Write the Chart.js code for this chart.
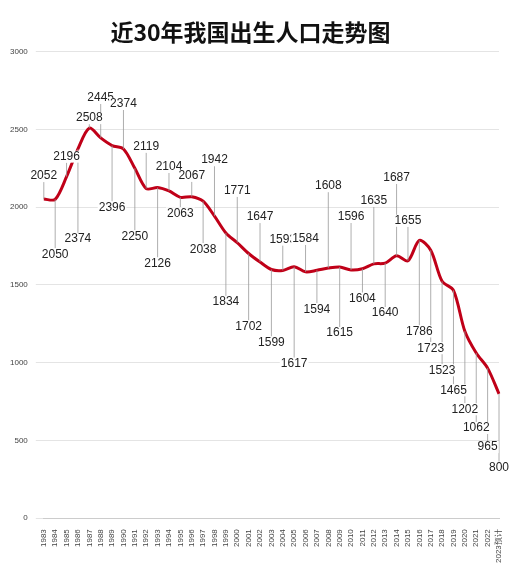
<!DOCTYPE html>
<html><head><meta charset="utf-8">
<script src="https://cdn.jsdelivr.net/npm/chart.js@4/dist/chart.umd.min.js"></script>
<style>body{margin:0;background:#fff}#w{width:513px;height:568px;position:relative}</style>
</head><body><div id="w"><canvas id="c"></canvas></div>
<script>
const years = ['1983','1984','1985','1986','1987','1988','1989','1990','1991','1992','1993','1994','1995','1996','1997','1998','1999','2000','2001','2002','2003','2004','2005','2006','2007','2008','2009','2010','2011','2012','2013','2014','2015','2016','2017','2018','2019','2020','2021','2022','2023预计'];
const births = [2052,2050,2196,2374,2508,2445,2396,2374,2250,2119,2126,2104,2063,2067,2038,1942,1834,1771,1702,1647,1599,1593,1617,1584,1594,1608,1615,1596,1604,1635,1640,1687,1655,1786,1723,1523,1465,1202,1062,965,800];
const yTicks = [0,500,1000,1500,2000,2500,3000];
const labelDy = [-23,55,-20,90,-10,-40,62,-45,68,-42,76,-24,16,-21,48,-56,69,-52,73,-45,73,-31,97,-33,39,-82,66,-53,30,-63,50,-78,-40,91,98,89,100,78,75,79,74];
const labelPlugin = {id:'lbl', afterDatasetsDraw(ch){
  const ctx=ch.ctx, meta=ch.getDatasetMeta(0);
  ctx.save(); ctx.font='12px "Liberation Sans", Arial'; ctx.textAlign='center'; ctx.textBaseline='middle';
  meta.data.forEach((p,i)=>{
    const ty=p.y+labelDy[i];
    ctx.strokeStyle='#999'; ctx.lineWidth=0.8; ctx.beginPath();
    ctx.moveTo(p.x,p.y); ctx.lineTo(p.x, ty + (labelDy[i]<0?6:-6)); ctx.stroke();
  });
  meta.data.forEach((p,i)=>{
    const ty=p.y+labelDy[i];
    ctx.fillStyle='#fff'; const w=ctx.measureText(String(births[i])).width;
    ctx.fillRect(p.x-w/2-1,ty-6,w+2,12);
    ctx.fillStyle='#222'; ctx.fillText(String(births[i]),p.x,ty);
  });
  ctx.restore();
}};
new Chart(document.getElementById('c'),{type:'line',
 data:{labels:years,datasets:[{data:births,borderColor:'#c00018',borderWidth:3,pointRadius:0,tension:0.3,fill:false}]},
 options:{responsive:true,maintainAspectRatio:false,animation:false,
  layout:{padding:{left:2,right:14,top:0,bottom:2}},
  plugins:{legend:{display:false},tooltip:{enabled:false},
   title:{display:true,text:'近30年我国出生人口走势图',font:{size:23,weight:'bold',family:'"Noto Sans CJK SC"'},color:'#111',padding:{top:18,bottom:6}}},
  scales:{
   x:{offset:false,grid:{display:false},border:{color:'#ccc'},ticks:{maxRotation:90,minRotation:90,autoSkip:false,font:{size:8},color:'#444'}},
   y:{min:0,max:3000,afterBuildTicks(a){a.ticks=yTicks.map(v=>({value:v}));},grid:{color:'#e4e4e4'},border:{display:false},ticks:{font:{size:8},color:'#444',padding:8,callback:v=>String(v)}}
  }}, plugins:[labelPlugin]});
</script></body></html>
